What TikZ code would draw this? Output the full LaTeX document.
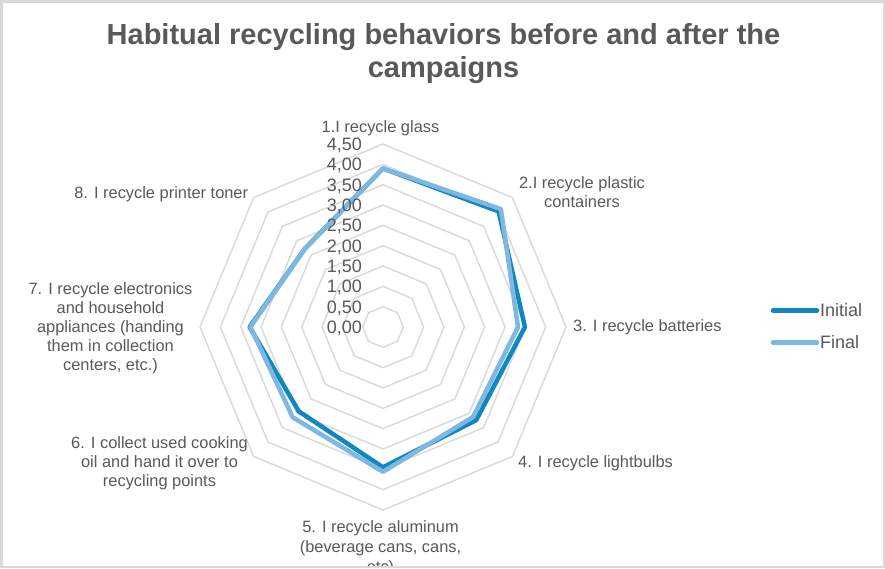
\documentclass[tikz,border=0pt]{standalone}
\usepackage{fontspec}
\setmainfont{Liberation Sans}
\definecolor{txtgray}{HTML}{595959}
\definecolor{gridgray}{HTML}{D9D9D9}
\definecolor{initblue}{HTML}{1187BF}
\definecolor{finalblue}{HTML}{7EB7DF}
\begin{document}
\begin{tikzpicture}[x=1pt,y=-1pt,
  gridline/.style={draw=gridgray,line width=1.4pt,line join=miter},
  initline/.style={draw=initblue,line width=4.5pt,line join=round},
  finalline/.style={draw=finalblue,line width=4.5pt,line join=round},
  cat/.style={inner sep=0pt,text=txtgray,font=\fontsize{16.4}{19.2}\selectfont,align=center},
  tick/.style={inner sep=0pt,text=txtgray,font=\fontsize{18}{20}\selectfont,anchor=base east},
  legtext/.style={inner sep=0pt,text=txtgray,font=\fontsize{18}{20}\selectfont,anchor=base west},
  ttl/.style={inner sep=0pt,text=txtgray,font=\fontsize{29}{33}\bfseries\selectfont,align=center,anchor=base}]
\useasboundingbox (0,0) rectangle (885,568);
\fill[white] (0,0) rectangle (885,568);
\pgfmathsetmacro\unitr{40.667}
\begin{scope}
\clip (2.5,2.5) rectangle (882.5,565.5);
% title (anchor base = baseline of last line)
\node[ttl] (title) at (443.5,77) {Habitual recycling behaviors before and after the\\campaigns};
% grid rings
\begin{scope}[shift={(383,327)}]
\coordinate (c) at (0,0);
\foreach \i in {1,...,9}{
  \pgfmathsetmacro\rr{\i*0.5*\unitr}
  \draw[gridline] (-90:\rr) -- (-45:\rr) -- (0:\rr) -- (45:\rr) -- (90:\rr) -- (135:\rr) -- (180:\rr) -- (225:\rr) -- cycle;
}
% data
\draw[initline] (-90:{3.90*\unitr}) -- (-45:{4.02*\unitr}) -- (0:{3.49*\unitr}) -- (45:{3.24*\unitr}) -- (90:{3.45*\unitr}) -- (135:{2.93*\unitr}) -- (180:{3.28*\unitr}) -- (225:{2.72*\unitr}) -- cycle;
\draw[finalline] (-90:{3.90*\unitr}) -- (-45:{4.10*\unitr}) -- (0:{3.32*\unitr}) -- (45:{3.13*\unitr}) -- (90:{3.56*\unitr}) -- (135:{3.14*\unitr}) -- (180:{3.26*\unitr}) -- (225:{2.72*\unitr}) -- cycle;
\end{scope}
% tick labels
\foreach \i/\lab in {0/{0,00},1/{0,50},2/{1,00},3/{1,50},4/{2,00},5/{2,50},6/{3,00},7/{3,50},8/{4,00},9/{4,50}}{
  \node[tick] (t\i) at (362,{327-\i*0.5*\unitr+6.4}) {\lab};
}
% category labels (multi-line: anchor base = last line)
\node[cat,anchor=base] (l1) at (380.5,132) {1.I recycle glass};
\node[cat,anchor=base] (l2) at (582,207.5) {2.I recycle plastic\\containers};
\node[cat,anchor=base west] (l3) at (573,331.7) {3. I recycle batteries};
\node[cat,anchor=base west] (l4) at (518,467.4) {4. I recycle lightbulbs};
\node[cat,anchor=base,font=\fontsize{16.4}{20}\selectfont] (l5) at (380.5,572.4) {5. I recycle aluminum\\(beverage cans, cans,\\etc)};
\node[cat,anchor=base] (l6) at (159.5,486.8) {6. I collect used cooking\\oil and hand it over to\\recycling points};
\node[cat,anchor=base] (l7) at (110.5,370.8) {7. I recycle electronics\\and household\\appliances (handing\\them in collection\\centers, etc.)};
\node[cat,anchor=base east] (l8) at (248.3,198.4) {8. I recycle printer toner};
% legend
\coordinate (ia) at (773,310.7);
\coordinate (ib) at (817,310.7);
\coordinate (fa) at (773,342.7);
\coordinate (fb) at (817,342.7);
\draw[initline,line cap=round] (ia) -- (ib);
\draw[finalline,line cap=round] (fa) -- (fb);
\node[legtext] (li) at (820,316.4) {Initial};
\node[legtext] (lf) at (820,348.4) {Final};
\end{scope}
\draw[draw=gridgray,line width=2.5pt] (1.25,1.25) rectangle (883.75,566.75);
\end{tikzpicture}
\end{document}
